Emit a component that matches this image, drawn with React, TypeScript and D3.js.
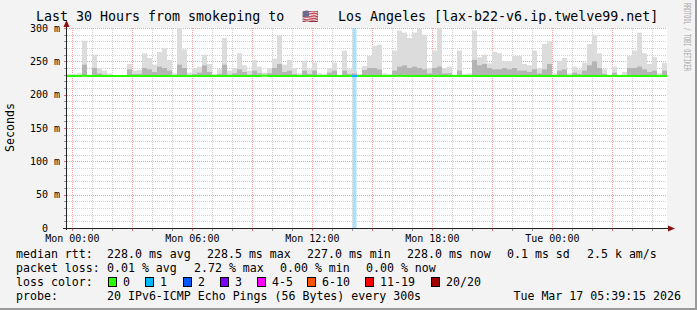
import React from "react";
import * as d3 from "d3";

const W = 697;
const H = 310;

const titleLead = "Last 30 Hours from smokeping to";
const titleFlag = "🇺🇸";
const titleTail = "Los Angeles [lax-b22-v6.ip.twelve99.net]";
const yAxisTitle = "Seconds";
const watermark = "RRDTOOL / TOBI OETIKER";

// time window (UTC used as wall-clock)
const startTime = Date.UTC(2026, 2, 15, 23, 44);
const endTime = Date.UTC(2026, 2, 17, 5, 44);
const binMinutes = 15;

// smoke: max ping (ms) and inner band (ms) per 15-minute bin
const smokeMax = [
  231, 231, 232, 281, 230, 260, 240, 236, 232, 229, 229, 229, 246, 236, 237, 262, 255, 245, 264, 270, 252, 232, 300, 268,
  233, 240, 242, 260, 246, 231, 238, 285, 236, 240, 262, 244, 236, 252, 242, 233, 240, 254, 289, 245, 252, 240, 232, 251,
  238, 248, 232, 231, 240, 248, 230, 266, 238, 236, 231, 243, 258, 273, 275, 232, 231, 266, 296, 293, 285, 293, 299, 290,
  240, 266, 300, 240, 242, 230, 266, 231, 232, 296, 256, 260, 247, 264, 262, 250, 250, 258, 258, 246, 244, 266, 240, 276,
  280, 232, 250, 255, 232, 242, 238, 248, 276, 289, 262, 238, 230, 242, 230, 234, 258, 266, 293, 262, 246, 256, 232, 248,
];
const smokeMid = [
  229, 229, 229, 245, 228, 240, 232, 230, 229, 228, 228, 228, 238, 231, 231, 240, 238, 234, 242, 240, 236, 229, 245, 240,
  229, 231, 233, 244, 234, 229, 231, 245, 230, 232, 238, 234, 230, 236, 232, 229, 232, 240, 246, 234, 236, 231, 229, 236,
  231, 236, 229, 229, 233, 236, 228, 236, 231, 232, 229, 237, 240, 240, 238, 229, 229, 236, 242, 244, 240, 242, 240, 238,
  232, 240, 242, 232, 232, 228, 236, 229, 229, 252, 244, 246, 240, 238, 238, 240, 238, 240, 236, 236, 234, 238, 232, 238,
  246, 229, 236, 238, 229, 233, 231, 236, 244, 250, 240, 231, 228, 233, 228, 229, 240, 240, 242, 238, 234, 236, 229, 236,
];
const medianRtt = [
  228, 228, 228, 228.5, 228, 228, 228, 228, 228, 228, 228, 228, 228, 228, 228, 228, 228, 228, 228, 228, 228, 228, 228, 228,
  228, 228, 228, 228, 228, 228, 228, 228, 228, 228, 228, 228, 228, 228, 228, 228.5, 228, 228, 228, 228, 228, 228, 228, 228,
  228, 228, 228, 228, 228, 228, 228, 228, 228, 228, 228, 228, 228, 228, 228, 228, 228, 228, 228.5, 228, 228, 228, 228, 228,
  228, 228, 228, 228, 228, 228, 228, 228, 228, 228, 228, 228, 228, 228, 228, 228, 228, 228, 228, 228, 228, 228, 228, 228,
  228, 228, 228, 228, 228, 228, 228, 228, 228, 228, 228, 228, 228, 228, 228, 228, 228, 228, 228, 228, 228, 228, 228, 228,
];
// bins with packet loss (index, lost pings of 20)
const lossBins = [57];
const lossCounts = [1];

const lossLabels = ["0", "1", "2", "3", "4-5", "6-10", "11-19", "20/20"];
const lossColors = ["#26ff00", "#00b8ff", "#0059ff", "#7e00ff", "#ff00ff", "#ff5500", "#ff0000", "#a10000"];
const lossSwatchX = [108, 145, 183, 220, 257, 307, 365, 431];

const rttLabel = "median rtt:";
const rttItems = ["228.0 ms avg", "228.5 ms max", "227.0 ms min", "228.0 ms now", "0.1 ms sd", "2.5 k am/s"];
const rttX = [107, 207, 307, 407, 507, 587];
const lossLabel = "packet loss:";
const lossItems = ["0.01 % avg", "2.72 % max", "0.00 % min", "0.00 % now"];
const lossX = [107, 194, 280, 366];
const colorLabel = "loss color:";
const probeLabel = "probe:";
const probeText = "20 IPv6-ICMP Echo Pings (56 Bytes) every 300s";
const stampText = "Tue Mar 17 05:39:15 2026";

const mono = "'DejaVu Sans Mono', monospace";

export default function App() {
  const x0 = 67, x1 = 667, yTop = 28, yBot = 228;
  const x = d3.scaleUtc().domain([new Date(startTime), new Date(endTime)]).range([x0, x1]);
  const y = d3.scaleLinear().domain([0, 300]).range([yBot, yTop]);
  const s = new Date(startTime), e = new Date(endTime);
  const minorX = d3.utcHour.range(s, e);
  const majorX = d3.utcHour.every(3)!.range(s, e);
  const labelX = d3.utcHour.every(6)!.range(s, e);
  const fmt = d3.utcFormat("%a %H:%M");
  const minorY = y.ticks(30);
  const majorY = y.ticks(6);
  const binT = (i: number) => new Date(startTime + i * binMinutes * 60000);

  const lossColorFor = (n: number) => (n === 0 ? 0 : n <= 3 ? n : n <= 5 ? 4 : n <= 10 ? 5 : n < 20 ? 6 : 7);
  const lossOf = (i: number) => {
    const k = lossBins.indexOf(i);
    return k < 0 ? 0 : lossCounts[k];
  };

  return (
    <svg width={W} height={H} style={{ position: "absolute", left: 0, top: 0 }} fontFamily={mono}>
      <rect x={0} y={0} width={W} height={H} fill="#f3f3f3" />
      <rect x={W - 2} y={0} width={2} height={H} fill="#9a9a9a" />
      <rect x={0} y={H - 2} width={W} height={2} fill="#9a9a9a" />
      <rect x={x0} y={yTop} width={x1 - x0} height={yBot - yTop} fill="#ffffff" />

      {/* loss bands */}
      {lossBins.map((b) => (
        <rect key={"lb" + b} x={x(binT(b)) + 0.5} y={yTop} width={x(binT(b + 1)) - x(binT(b)) - 1} height={yBot - yTop}
          fill="#a9e2fb" />
      ))}

      {/* grid */}
      {minorY.map((v) => (
        <line key={"gy" + v} x1={x0} x2={x1} y1={Math.round(y(v)) + 0.5} y2={Math.round(y(v)) + 0.5}
          stroke="#cfcfcf" strokeDasharray="1,1" />
      ))}
      {minorX.map((t) => (
        <line key={"gx" + +t} x1={Math.round(x(t)) + 0.5} x2={Math.round(x(t)) + 0.5} y1={yTop} y2={yBot}
          stroke="#cfcfcf" strokeDasharray="1,1" />
      ))}
      {majorY.filter((v) => v > 0).map((v) => (
        <line key={"my" + v} x1={x0} x2={x1} y1={Math.round(y(v)) + 0.5} y2={Math.round(y(v)) + 0.5}
          stroke="#f4a0a0" strokeDasharray="1,1" />
      ))}
      {majorX.map((t) => (
        <line key={"mx" + +t} x1={Math.round(x(t)) + 0.5} x2={Math.round(x(t)) + 0.5} y1={yTop} y2={yBot}
          stroke="#f4a0a0" strokeDasharray="1,1" />
      ))}

      {/* smoke */}
      {smokeMax.map((v, i) => {
        const xa = x(binT(i)), xb = x(binT(i + 1));
        return (
          <g key={"s" + i}>
            <rect x={xa} y={y(v)} width={xb - xa} height={y(medianRtt[i]) - y(v)} fill="#dcdcdc" />
            <rect x={xa} y={y(smokeMid[i])} width={xb - xa} height={y(medianRtt[i]) - y(smokeMid[i])} fill="#b4b4b4" />
          </g>
        );
      })}

      {/* median line */}
      {medianRtt.map((v, i) => {
        const xa = x(binT(i)), xb = x(binT(i + 1));
        return (
          <line key={"m" + i} x1={xa} x2={xb} y1={y(v)} y2={y(v)}
            stroke={lossColors[lossColorFor(lossOf(i))]} strokeWidth={2} />
        );
      })}

      {/* axes */}
      {minorY.map((v) => (
        <line key={"ty" + v} x1={64} x2={67} y1={Math.round(y(v)) + 0.5} y2={Math.round(y(v)) + 0.5}
          stroke={v % 50 === 0 ? "#e07070" : "#999"} />
      ))}
      {minorX.map((t) => (
        <line key={"tx" + +t} x1={Math.round(x(t)) + 0.5} x2={Math.round(x(t)) + 0.5} y1={228} y2={231}
          stroke={majorX.some((m) => +m === +t) ? "#e07070" : "#999"} />
      ))}
      <line x1={66.5} x2={66.5} y1={24} y2={yBot + 2} stroke="#222" />
      <line x1={63} x2={671} y1={228.5} y2={228.5} stroke="#222" />
      <path d="M63.5,27 L66.5,20 L69.5,27 Z" fill="#8b1010" />
      <path d="M668,225.5 L675,228.5 L668,231.5 Z" fill="#8b1010" />

      {/* y labels */}
      {majorY.map((v) => (
        <text key={"yl" + v} x={60} y={y(v) + 3.5} fontSize={10} textAnchor="end" fill="#000"
          style={{ whiteSpace: "pre" }} xmlSpace="preserve">
          {v === 0 ? "0  " : `${v} m`}
        </text>
      ))}
      {labelX.map((t) => (
        <text key={"xl" + +t} x={x(t)} y={241.5} fontSize={10} textAnchor="middle" fill="#000">
          {fmt(t)}
        </text>
      ))}

      <text transform="translate(14,127.5) rotate(-90)" fontSize={11.6} textAnchor="middle" fill="#000">
        {yAxisTitle}
      </text>
      <text y={20.5} fontSize={13.3} fill="#000">
        <tspan x={36}>{titleLead}</tspan>
        <tspan x={302}>{titleFlag}</tspan>
        <tspan x={338}>{titleTail}</tspan>
      </text>
      <text transform="translate(683.5,3) rotate(90)" fontSize={8} fill="#a8a8a8" textLength={68}
        lengthAdjust="spacingAndGlyphs">{watermark}</text>

      {/* legend */}
      <g fontSize={11.6} fill="#000">
        <text x={16} y={258}>{rttLabel}</text>
        {rttItems.map((t, i) => <text key={"r" + i} x={rttX[i]} y={258}>{t}</text>)}
        <text x={16} y={272}>{lossLabel}</text>
        {lossItems.map((t, i) => <text key={"l" + i} x={lossX[i]} y={272}>{t}</text>)}
        <text x={16} y={286}>{colorLabel}</text>
        {lossLabels.map((t, i) => (
          <g key={"c" + i}>
            <rect x={lossSwatchX[i] + 0.5} y={277.5} width={8} height={9} fill={lossColors[i]} stroke="#000" />
            <text x={lossSwatchX[i] + 15} y={286}>{t}</text>
          </g>
        ))}
        <text x={16} y={300}>{probeLabel}</text>
        <text x={107} y={300}>{probeText}</text>
        <text x={681} y={300} textAnchor="end">{stampText}</text>
      </g>
    </svg>
  );
}
